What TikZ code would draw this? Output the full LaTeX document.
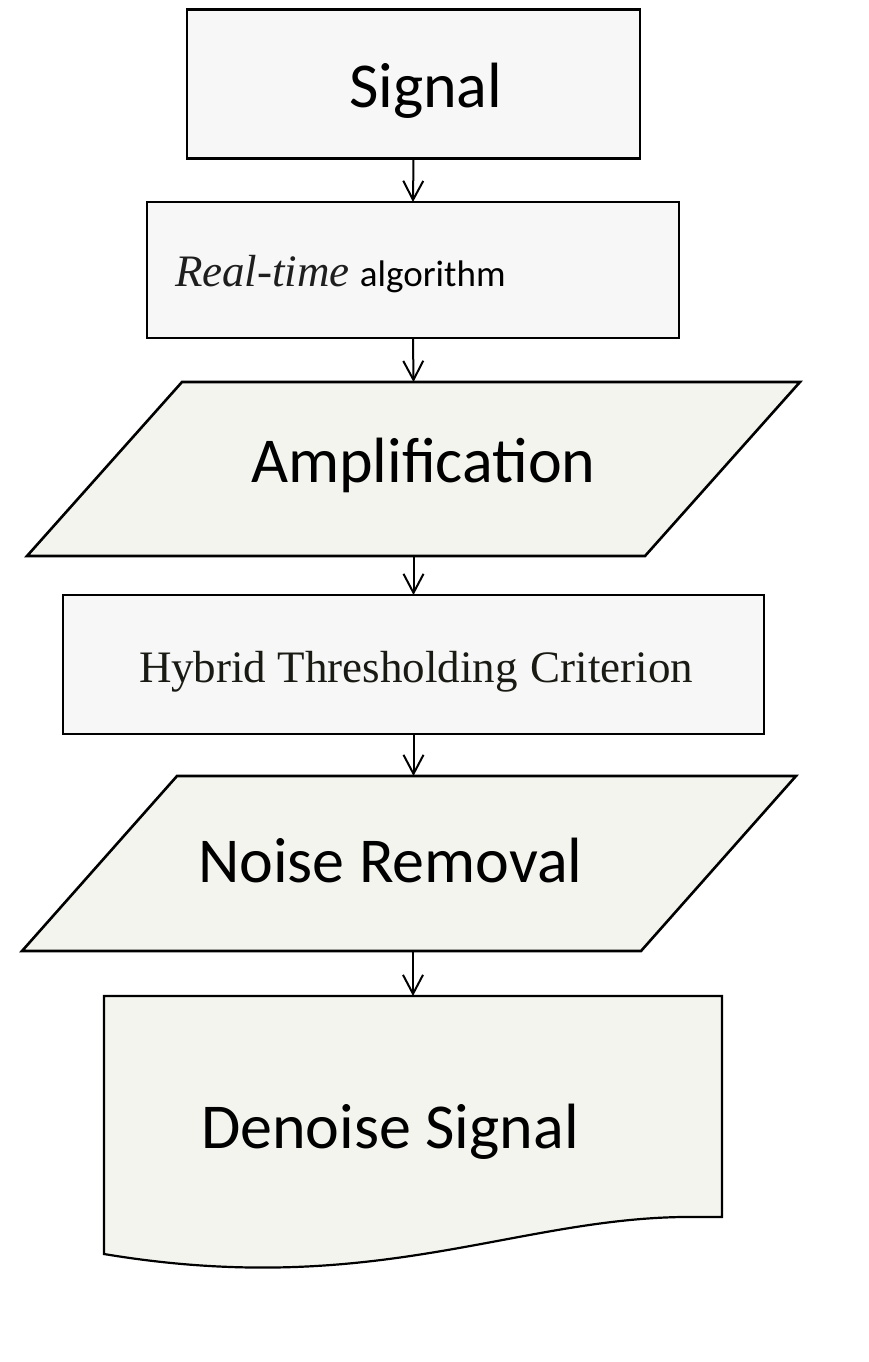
\documentclass[tikz,border=0pt]{standalone}
\usepackage{fontspec}
\setmainfont{Carlito}
\newfontfamily\tnr{Liberation Serif}
\usetikzlibrary{arrows.meta}
\definecolor{boxfill}{RGB}{247,247,247}
\definecolor{parafill}{RGB}{243,244,237}
\definecolor{serifink}{RGB}{26,26,20}
\begin{document}
\begin{tikzpicture}[x=1pt,y=-1pt,
  shapebox/.style={draw=black, line width=2.6pt, fill=boxfill, inner sep=0pt, outer sep=0pt},
  holder/.style={inner sep=0pt, outer sep=0pt},
  para/.style={draw=black, line width=2.6pt, fill=parafill, line join=miter},
  lbl/.style={anchor=base west, inner sep=0pt, outer sep=0pt},
  bigtext/.style={font=\fontsize{64}{70}\selectfont},
  flow/.style={draw=black, line width=2pt, -{Straight Barb[length=19pt,width=20pt]}}]
\useasboundingbox[fill=white] (0,0) rectangle (868,1362);

% shapes
\node[shapebox, minimum width=453, minimum height=149] (signal) at (413.5,84) {};
\node[shapebox, minimum width=532, minimum height=136] (rt) at (413,270) {};
\node[holder, minimum width=773, minimum height=174] (amp) at (413.5,469) {};
\draw[para] (amp.south west) -- ([xshift=-155pt]amp.south east) -- (amp.north east) -- ([xshift=155pt]amp.north west) -- cycle;
\node[shapebox, minimum width=701, minimum height=139] (hyb) at (413.5,664.5) {};
\node[holder, minimum width=774, minimum height=175] (noise) at (409,863.5) {};
\draw[para] (noise.south west) -- ([xshift=-155pt]noise.south east) -- (noise.north east) -- ([xshift=155pt]noise.north west) -- cycle;
\node[holder, minimum width=618, minimum height=258] (doc) at (413,1125) {};
\draw[para, line width=2.2pt] (doc.south west) -- (doc.north west) -- (doc.north east) -- ([yshift=37pt]doc.south east)
  -- (700,1217) .. controls (520,1214) and (380,1300) .. (doc.south west) -- cycle;

% texts
\node[lbl, bigtext] (tsig) at (349,108) {Signal};
\node[lbl] (trt) at (175,286) {{\tnr\itshape\fontsize{45}{50}\selectfont\color[RGB]{30,30,30}Real-time}\hspace{10pt}{\fontsize{37}{44}\selectfont algorithm}};
\node[lbl, bigtext] (tamp) at (251,482) {Amplification};
\node[lbl, font=\tnr\fontsize{45}{50}\selectfont, text=serifink] (thyb) at (139,682) {Hybrid Thresholding\hspace{2pt} Criterion};
\node[lbl, bigtext] (tnoise) at (198,882) {Noise Removal};
\node[lbl, bigtext] (tdoc) at (201,1148) {Denoise Signal};

% connectors
\draw[flow] (signal.south) -- (rt.north);
\draw[flow] (rt.south) -- (amp.north);
\draw[flow] (amp.south) -- (hyb.north);
\draw[flow] (hyb.south) -- (hyb.south |- noise.north);
\draw[flow] (doc.north |- noise.south) -- (doc.north);
\end{tikzpicture}
\end{document}
